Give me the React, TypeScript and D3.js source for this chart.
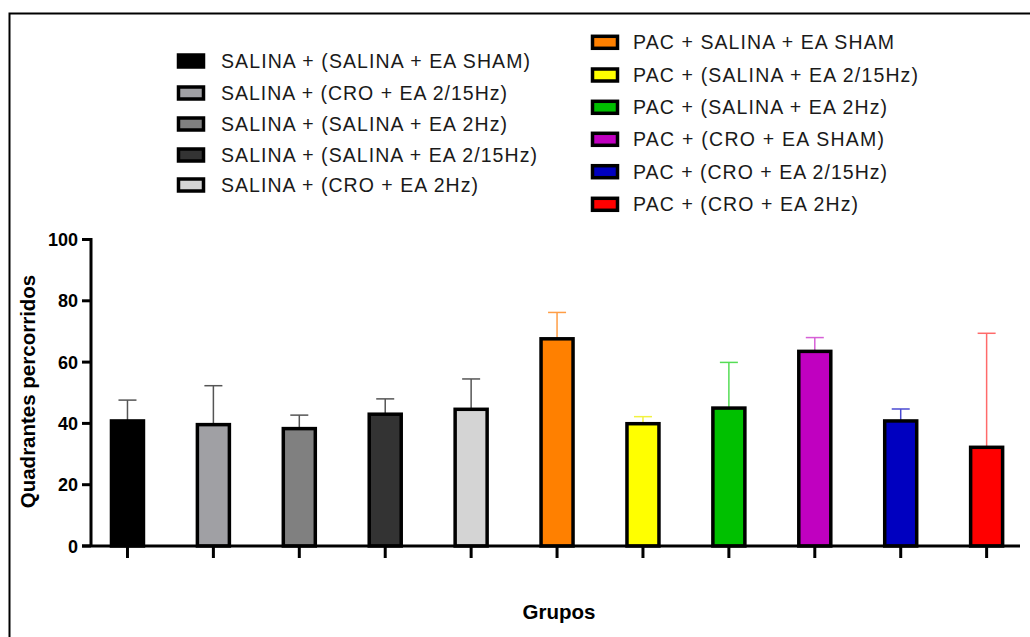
import React from "react";
import * as d3 from "d3";

const categories = [
  "SALINA + (SALINA + EA SHAM)",
  "SALINA + (CRO + EA 2/15Hz)",
  "SALINA + (SALINA + EA 2Hz)",
  "SALINA + (SALINA + EA 2/15Hz)",
  "SALINA + (CRO + EA 2Hz)",
  "PAC + SALINA + EA SHAM",
  "PAC + (SALINA + EA 2/15Hz)",
  "PAC + (SALINA + EA 2Hz)",
  "PAC + (CRO + EA SHAM)",
  "PAC + (CRO + EA 2/15Hz)",
  "PAC + (CRO + EA 2Hz)",
];
const means = [40.8, 39.6, 38.3, 43.0, 44.6, 67.6, 39.9, 45.0, 63.5, 40.8, 32.2];
const upper = [47.6, 52.3, 42.7, 48.0, 54.5, 76.2, 42.2, 59.9, 68.0, 44.7, 69.4];
const colors = [
  "#000000", "#a0a0a4", "#808080", "#333333", "#d4d4d4",
  "#ff8000", "#ffff00", "#00c000", "#c000c0", "#0000c0", "#ff0000",
];
const errColors = [
  "#555555", "#555555", "#555555", "#555555", "#555555",
  "#ff9d45", "#f2f240", "#55dd55", "#d660d6", "#4a4ad2", "#ff6a6a",
];
const yTicks = [0, 20, 40, 60, 80, 100];
const legendLeftWidths = [309, 286, 286, 316, 257];
const legendRightWidths = [261, 285, 254, 251, 254, 225];

export default function App() {
  const x = d3
    .scaleBand<string>()
    .domain(categories)
    .range([85.7, 1028.4])
    .paddingInner(0.6276)
    .paddingOuter(0.3);
  const y = d3.scaleLinear().domain([0, 100]).range([546, 239.5]);
  const bw = x.bandwidth();
  const font = "'Liberation Sans', Arial, sans-serif";

  const leftItems = categories.slice(0, 5);
  const rightItems = categories.slice(5);
  const leftY = [61, 93, 124, 155, 185];
  const rightY = [42.3, 75, 107.3, 139.3, 171.7, 204.3];

  return (
    <svg
      width={1030}
      height={637}
      style={{ position: "absolute", left: 0, top: 0, background: "#fff" }}
      fontFamily={font}
    >
      {/* frame */}
      <path d="M9.5,637 V13.5 H1030" fill="none" stroke="#000" strokeWidth={2} />

      {/* legend left */}
      {leftItems.map((c, i) => (
        <g key={c}>
          <rect
            x={178.5}
            y={leftY[i] - 6}
            width={25}
            height={12}
            fill={colors[i]}
            stroke="#000"
            strokeWidth={3.5}
          />
          <text
            x={221}
            y={leftY[i] + 7}
            fontSize={19.5}
            fill="#1a1a1a"
            textLength={legendLeftWidths[i]}
            lengthAdjust="spacing"
          >
            {c}
          </text>
        </g>
      ))}
      {rightItems.map((c, i) => (
        <g key={c}>
          <rect
            x={592.5}
            y={rightY[i] - 6}
            width={25}
            height={12}
            fill={colors[i + 5]}
            stroke="#000"
            strokeWidth={3.5}
          />
          <text
            x={633}
            y={rightY[i] + 7}
            fontSize={19.5}
            fill="#1a1a1a"
            textLength={legendRightWidths[i]}
            lengthAdjust="spacing"
          >
            {c}
          </text>
        </g>
      ))}

      {/* error bars */}
      {categories.map((c, i) => {
        const cx = (x(c) as number) + bw / 2;
        return (
          <g key={"e" + c} stroke={errColors[i]} strokeWidth={1.5}>
            <line x1={cx} x2={cx} y1={y(means[i])} y2={y(upper[i])} />
            <line x1={cx - 9} x2={cx + 9} y1={y(upper[i])} y2={y(upper[i])} />
          </g>
        );
      })}

      {/* bars */}
      {categories.map((c, i) => (
        <rect
          key={"b" + c}
          x={x(c) as number}
          y={y(means[i])}
          width={bw}
          height={y(0) - y(means[i])}
          fill={colors[i]}
          stroke="#000"
          strokeWidth={3.5}
        />
      ))}

      {/* y axis */}
      <line x1={91} x2={91} y1={y(100) - 1.5} y2={y(0)} stroke="#000" strokeWidth={3} />
      {yTicks.map((t) => (
        <g key={"t" + t}>
          <line x1={82} x2={91} y1={y(t)} y2={y(t)} stroke="#000" strokeWidth={3} />
          <text
            x={78}
            y={y(t) + 6.5}
            textAnchor="end"
            fontSize={18}
            fontWeight="bold"
            fill="#000"
          >
            {t}
          </text>
        </g>
      ))}

      {/* x axis */}
      <line x1={82} x2={1020} y1={y(0)} y2={y(0)} stroke="#000" strokeWidth={3} />
      {categories.map((c) => {
        const cx = (x(c) as number) + bw / 2;
        return (
          <line key={"xt" + c} x1={cx} x2={cx} y1={y(0)} y2={y(0) + 12} stroke="#000" strokeWidth={3} />
        );
      })}

      {/* axis titles */}
      <text
        transform="translate(35,391.5) rotate(-90)"
        textAnchor="middle"
        fontSize={20.5}
        fontWeight="bold"
        fill="#000"
      >
        Quadrantes percorridos
      </text>
      <text x={559} y={619} textAnchor="middle" fontSize={20.5} fontWeight="bold" fill="#000">
        Grupos
      </text>
    </svg>
  );
}
